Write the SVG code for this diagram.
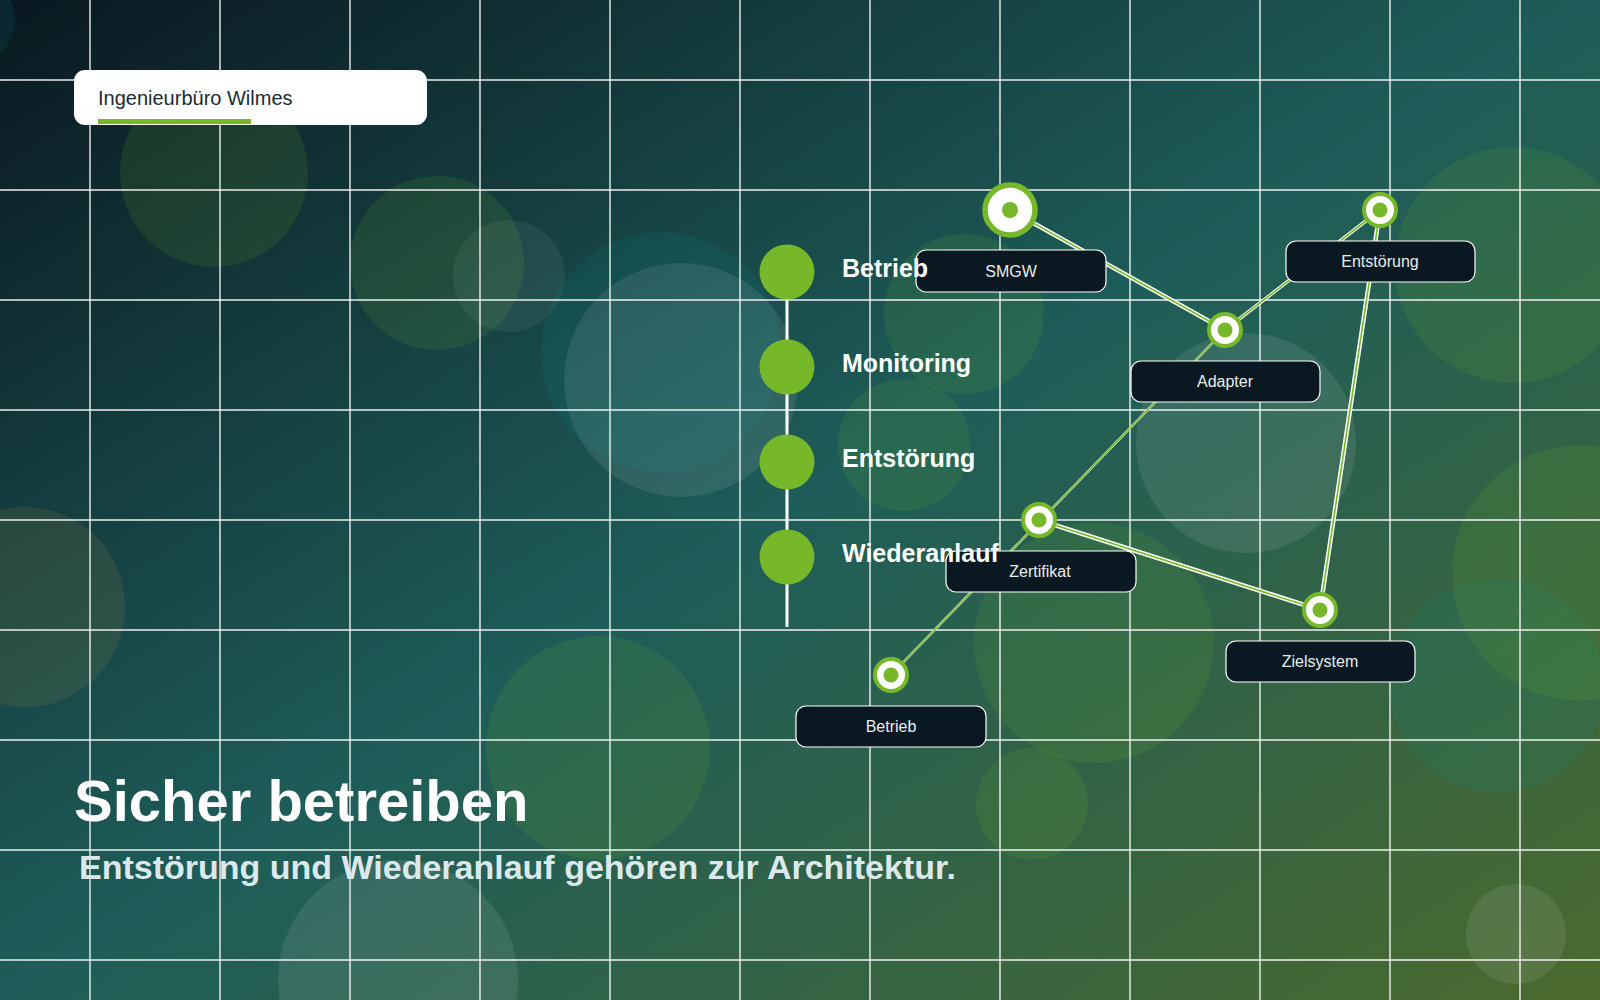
<svg xmlns="http://www.w3.org/2000/svg" width="1600" height="1000" viewBox="0 0 1600 1000">
<defs>
<linearGradient id="bg" x1="0" y1="0" x2="1" y2="1">
<stop offset="0" stop-color="#0a1820"/>
<stop offset="0.5" stop-color="#1e5d59"/>
<stop offset="1" stop-color="#4b6a2e"/>
</linearGradient>
<style>
.grid line{stroke:#ffffff;stroke-width:1.4;opacity:0.92}
.bg{fill:#76b82a;opacity:0.13}
.bw{fill:#ffffff;opacity:0.09}
.bws{fill:#ffffff;opacity:0.06}
.bt{fill:#0a9098;opacity:0.12}
.bo{fill:#a08a48;opacity:0.15}
.eo{stroke:#ffffff;stroke-linecap:round;fill:none}
.ei{stroke:#76b82a;stroke-width:1.6;stroke-linecap:round;fill:none}
.ring{fill:#ffffff;stroke:#76b82a}
.dot{fill:#76b82a}
.box{fill:#0a1821;stroke:#ffffff;stroke-width:1.2}
.lbl{font-family:"Liberation Sans",Arial,sans-serif;font-size:16px;fill:#e8eef0;text-anchor:middle}
.tl{font-family:"Liberation Sans",Arial,sans-serif;font-size:25px;font-weight:bold;fill:#ffffff}
.tc{fill:#76b82a}
</style>
</defs>
<rect x="0" y="0" width="1600" height="1000" fill="url(#bg)"/>
<g id="bubbles">
<circle class="bt" cx="-30" cy="20" r="45"/>
<circle class="bg" cx="214" cy="173" r="94"/>
<circle class="bg" cx="437" cy="263" r="87"/>
<circle class="bws" cx="509" cy="276" r="56"/>
<circle class="bt" cx="661" cy="352" r="120"/>
<circle class="bw" cx="681" cy="380" r="117"/>
<circle class="bg" cx="964" cy="314" r="80"/>
<circle class="bg" cx="904" cy="445" r="66"/>
<circle class="bw" cx="1246" cy="443" r="110"/>
<circle class="bg" cx="1513" cy="265" r="118"/>
<circle class="bt" cx="1497" cy="686" r="107"/>
<circle class="bg" cx="1580" cy="573" r="128"/>
<circle class="bg" cx="1094" cy="643" r="120"/>
<circle class="bg" cx="1032" cy="804" r="56"/>
<circle class="bg" cx="598" cy="748" r="112"/>
<circle class="bw" cx="398" cy="980" r="120"/>
<circle class="bo" cx="25" cy="607" r="100"/>
<circle class="bw" cx="1516" cy="934" r="50"/>
</g>
<g class="grid">
<line x1="90" y1="0" x2="90" y2="1000"/>
<line x1="220" y1="0" x2="220" y2="1000"/>
<line x1="350" y1="0" x2="350" y2="1000"/>
<line x1="480" y1="0" x2="480" y2="1000"/>
<line x1="610" y1="0" x2="610" y2="1000"/>
<line x1="740" y1="0" x2="740" y2="1000"/>
<line x1="870" y1="0" x2="870" y2="1000"/>
<line x1="1000" y1="0" x2="1000" y2="1000"/>
<line x1="1130" y1="0" x2="1130" y2="1000"/>
<line x1="1260" y1="0" x2="1260" y2="1000"/>
<line x1="1390" y1="0" x2="1390" y2="1000"/>
<line x1="1520" y1="0" x2="1520" y2="1000"/>
<line x1="0" y1="80" x2="1600" y2="80"/>
<line x1="0" y1="190" x2="1600" y2="190"/>
<line x1="0" y1="300" x2="1600" y2="300"/>
<line x1="0" y1="410" x2="1600" y2="410"/>
<line x1="0" y1="520" x2="1600" y2="520"/>
<line x1="0" y1="630" x2="1600" y2="630"/>
<line x1="0" y1="740" x2="1600" y2="740"/>
<line x1="0" y1="850" x2="1600" y2="850"/>
<line x1="0" y1="960" x2="1600" y2="960"/>
</g>
<g id="header">
<rect x="74" y="70" width="353" height="55" rx="11" fill="#ffffff"/>
<text x="98" y="105" font-family="Liberation Sans, Arial, sans-serif" font-size="20" fill="#1a2b35">Ingenieurbüro Wilmes</text>
<rect x="98" y="119" width="153" height="5" fill="#76b82a"/>
</g>
<g id="connectors">
<line class="eo" stroke-width="4.5" x1="1010" y1="210" x2="1225" y2="330"/>
<line class="ei" x1="1010" y1="210" x2="1225" y2="330"/>
<line class="eo" stroke-width="3.5" x1="1225" y1="330" x2="1380" y2="210"/>
<line class="ei" x1="1225" y1="330" x2="1380" y2="210"/>
<line class="eo" stroke-width="4.5" x1="1380" y1="210" x2="1320" y2="610"/>
<line class="ei" x1="1380" y1="210" x2="1320" y2="610"/>
<line class="eo" stroke-width="4.5" x1="1039" y1="520" x2="1320" y2="610"/>
<line class="ei" x1="1039" y1="520" x2="1320" y2="610"/>
<line class="eo" stroke-width="2.4" x1="1225" y1="330" x2="891" y2="675"/>
<line class="ei" x1="1225" y1="330" x2="891" y2="675"/>
</g>
<g id="node-smgw">
<circle class="ring" cx="1010" cy="210" r="25" stroke-width="5.5"/>
<circle class="dot" cx="1010" cy="210" r="8"/>
<rect class="box" x="916" y="250" width="190" height="42" rx="10"/>
<text class="lbl" x="1011" y="277">SMGW</text>
</g>
<g id="node-adapter">
<circle class="ring" cx="1225" cy="330" r="16" stroke-width="4"/>
<circle class="dot" cx="1225" cy="330" r="7.5"/>
<rect class="box" x="1131" y="361" width="189" height="41" rx="10"/>
<text class="lbl" x="1225" y="387">Adapter</text>
</g>
<g id="node-entstoerung">
<circle class="ring" cx="1380" cy="210" r="16" stroke-width="4"/>
<circle class="dot" cx="1380" cy="210" r="7.5"/>
<rect class="box" x="1286" y="241" width="189" height="41" rx="10"/>
<text class="lbl" x="1380" y="267">Entstörung</text>
</g>
<g id="node-zielsystem">
<circle class="ring" cx="1320" cy="610" r="16" stroke-width="4"/>
<circle class="dot" cx="1320" cy="610" r="7.5"/>
<rect class="box" x="1226" y="641" width="189" height="41" rx="10"/>
<text class="lbl" x="1320" y="667">Zielsystem</text>
</g>
<g id="node-zertifikat">
<circle class="ring" cx="1039" cy="520" r="16" stroke-width="4"/>
<circle class="dot" cx="1039" cy="520" r="7.5"/>
<rect class="box" x="946" y="551" width="190" height="41" rx="10"/>
<text class="lbl" x="1040" y="577">Zertifikat</text>
</g>
<g id="node-betrieb">
<circle class="ring" cx="891" cy="675" r="16" stroke-width="4"/>
<circle class="dot" cx="891" cy="675" r="7.5"/>
<rect class="box" x="796" y="706" width="190" height="41" rx="10"/>
<text class="lbl" x="891" y="732">Betrieb</text>
</g>
<g id="timeline">
<line x1="787" y1="272" x2="787" y2="627" stroke="#ffffff" stroke-width="3"/>
<circle class="tc" cx="787" cy="272" r="27.5"/>
<circle class="tc" cx="787" cy="367" r="27.5"/>
<circle class="tc" cx="787" cy="462" r="27.5"/>
<circle class="tc" cx="787" cy="557" r="27.5"/>
<text class="tl" x="842" y="277">Betrieb</text>
<text class="tl" x="842" y="372">Monitoring</text>
<text class="tl" x="842" y="467">Entstörung</text>
<text class="tl" x="842" y="562">Wiederanlauf</text>
</g>
<g id="title">
<text x="74" y="821" font-family="Liberation Sans, Arial, sans-serif" font-size="58" font-weight="bold" fill="#ffffff">Sicher betreiben</text>
<text x="79" y="879" font-family="Liberation Sans, Arial, sans-serif" font-size="34" font-weight="bold" fill="#dce9ec">Entstörung und Wiederanlauf gehören zur Architektur.</text>
</g>
</svg>
